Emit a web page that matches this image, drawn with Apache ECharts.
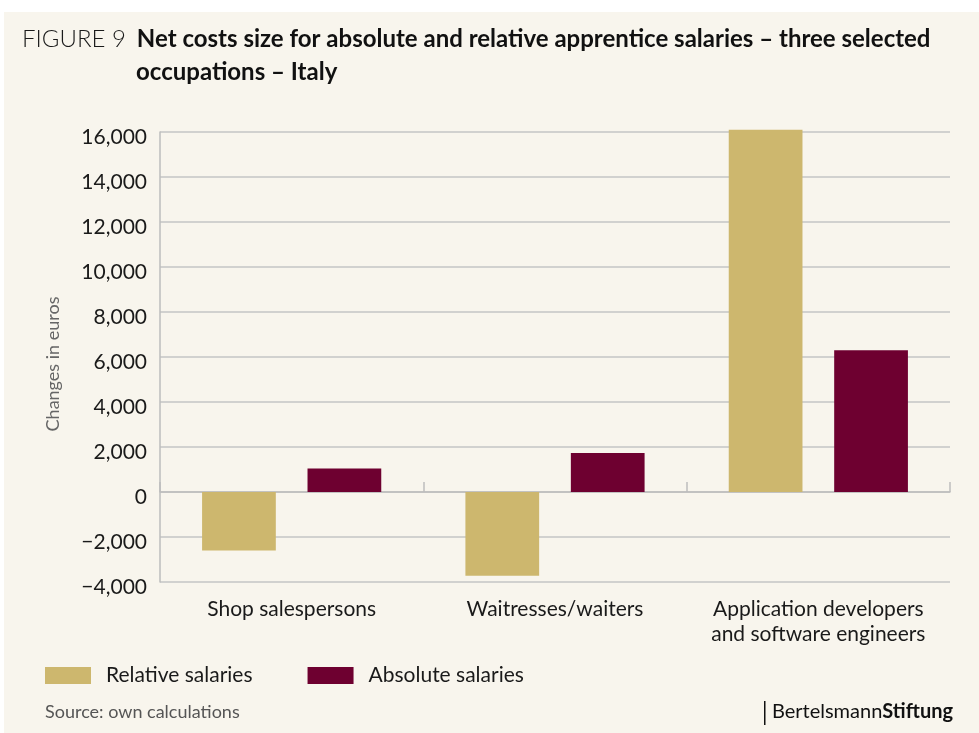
<!DOCTYPE html>
<html>
<head>
<meta charset="utf-8">
<script src="https://cdn.jsdelivr.net/npm/echarts@6/dist/echarts.min.js"></script>
<style>
html,body{margin:0;padding:0;background:#ffffff;}
#c{position:absolute;left:4px;top:12px;width:975px;height:721px;}
</style>
</head>
<body>
<div id="c"></div>
<script>
const categories = ['Shop salespersons', 'Waitresses/waiters', 'Application developers\nand software engineers'];
const relativeSalaries = [-2600, -3720, 16100];
const absoluteSalaries = [1050, 1730, 6300];
const seriesNames = ['Relative salaries', 'Absolute salaries'];

const chart = echarts.init(document.getElementById('c'));
const FONT = 'Lato, "Noto Sans", sans-serif';
const ox = 4, oy = 12;
chart.setOption({
  backgroundColor: '#f8f5ed',
  animation: false,
  textStyle: {fontFamily: FONT},
  title: {
    left: 22 - ox, top: 23 - oy, padding: 0,
    text: '{f|FIGURE 9}{g|}{b|Net costs size for absolute and relative apprentice salaries – three selected}\n{sp|}{b|occupations – Italy}',
    textStyle: {
      rich: {
        f: {fontFamily: FONT, fontSize: 24, fontWeight: 300, color: '#1a1a1a', lineHeight: 33},
        g: {width: 11, lineHeight: 33},
        b: {fontFamily: FONT, fontSize: 24, fontWeight: 'bold', color: '#111', lineHeight: 33},
        sp: {width: 114, lineHeight: 33}
      }
    }
  },
  legend: {
    left: 45 - ox, top: 665 - oy, padding: 0,
    itemWidth: 46, itemHeight: 17, itemGap: 55,
    icon: 'rect',
    textStyle: {fontFamily: FONT, fontSize: 21, color: '#1a1a1a', padding: [0, 0, 0, 10]},
    data: seriesNames
  },
  grid: {left: 160 - ox, right: 29, top: 132 - oy, bottom: 151, containLabel: false},
  xAxis: [{
    type: 'category', data: categories,
    axisLine: {onZero: true, lineStyle: {color: '#bdbdbd', width: 1.5}},
    axisTick: {show: true, inside: true, length: 10, lineStyle: {color: '#bdbdbd', width: 1.5}},
    axisLabel: {show: false}
  }, {
    type: 'category', data: categories, position: 'bottom',
    axisLine: {show: false, onZero: false},
    axisTick: {show: false},
    axisLabel: {interval: 0, hideOverlap: false, fontFamily: FONT, fontSize: 21, color: '#1a1a1a', margin: 15, lineHeight: 25}
  }],
  yAxis: {
    type: 'value', min: -4000, max: 16000, interval: 2000,
    name: 'Changes in euros', nameLocation: 'middle', nameGap: 98, nameRotate: 90,
    nameTextStyle: {fontFamily: FONT, fontSize: 18, color: '#666', padding: [0, 14, 0, 0]},
    axisLine: {show: true, lineStyle: {color: '#bdbdbd', width: 1.5}},
    axisTick: {show: false},
    axisLabel: {fontFamily: FONT, fontSize: 21, color: '#1a1a1a', margin: 13,
      formatter: v => '{v|' + (v < 0 ? '\u2212' : '') + Math.abs(v).toLocaleString('en-US') + '}',
      rich: {v: {fontFamily: FONT, fontSize: 21, color: '#1a1a1a', padding: [11, 0, 0, 0]}}},
    splitLine: {show: true, lineStyle: {color: '#c4c4c4', width: 1.5}}
  },
  series: [{
    name: seriesNames[0], type: 'bar', data: relativeSalaries, clip: false,
    barWidth: '28%', barGap: '43%', itemStyle: {color: '#cdb76e'}
  }, {
    name: seriesNames[1], type: 'bar', data: absoluteSalaries, clip: false,
    barWidth: '28%', barGap: '43%', itemStyle: {color: '#6e0030'}
  }],
  graphic: [
    {type: 'text', left: 45 - ox, top: 703 - oy, style: {text: 'Source: own calculations', font: '18px ' + FONT, fill: '#555'}},
    {type: 'rect', shape: {x: 764 - ox, y: 701 - oy, width: 1.5, height: 24}, style: {fill: '#111'}},
    {type: 'text', right: 979 - 953, top: 702 - oy, style: {
      text: '{r|Bertelsmann}{b|Stiftung}',
      rich: {r: {font: '20px ' + FONT, fill: '#111'}, b: {font: 'bold 20px ' + FONT, fill: '#111'}}
    }}
  ]
});
</script>
</body>
</html>
